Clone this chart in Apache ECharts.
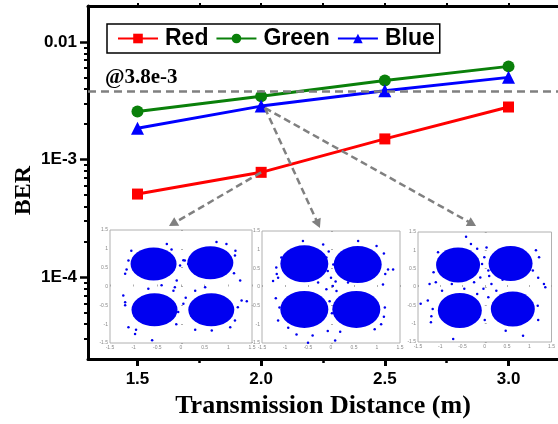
<!DOCTYPE html>
<html><head><meta charset="utf-8">
<script src="https://cdn.jsdelivr.net/npm/echarts@6/dist/echarts.min.js"></script>
<style>html,body{margin:0;padding:0;background:#fff}#c{width:558px;height:424px}</style>
</head><body><div id="c"></div>
<script>
// ---- main chart data ----
const distances = [1.5, 2.0, 2.5, 3.0];
const berRed = [5.1e-4, 7.8e-4, 1.5e-3, 2.8e-3];
const berGreen = [2.56e-3, 3.45e-3, 4.7e-3, 6.2e-3];
const berBlue = [1.85e-3, 2.85e-3, 3.85e-3, 5.0e-3];
const fecLimit = 3.8e-3;
const seriesNames = ['Red', 'Green', 'Blue'];
const xTickValues = [1.5, 2.0, 2.5, 3.0];
const xMinorTickValues = [1.75, 2.25, 2.75];
const yTickValues = [1e-4, 1e-3, 1e-2];
const yTickLabels = ['1E-4', '1E-3', '0.01'];
const yMinorTickValues = [3e-5,4e-5,5e-5,6e-5,7e-5,8e-5,9e-5,2e-4,3e-4,4e-4,5e-4,6e-4,7e-4,8e-4,9e-4,2e-3,3e-3,4e-3,5e-3,6e-3,7e-3,8e-3,9e-3];
const xRange = [1.3, 3.2];
const yRange = [2.02e-5, 2.02e-2];
// arrows (data space): from a point on the chart to each constellation inset
const arrowFrom = [[2.0, 7.8e-4], [2.015, 2.75e-3], [2.015, 2.75e-3]];
const arrowTo = [[1.643, 2.85e-4], [2.23, 2.85e-4], [2.853, 2.85e-4]];

// ---- constellation insets (I/Q), cluster centres + visible outlying points ----
const clusters1 = [[-0.58, 0.6], [0.62, 0.63], [-0.56, -0.62], [0.64, -0.62]];
const clusters2 = [[-0.58, 0.62], [0.58, 0.6], [-0.58, -0.6], [0.55, -0.6]];
const clusters3 = [[-0.6, 0.6], [0.58, 0.64], [-0.56, -0.64], [0.63, -0.6]];
const points1 = [[-1.22,-0.24],[-1.18,-0.42],[-1.11,-1.08],[-0.61,-1.43],[-0.97,-1.26],[-0.06,-0.68],[0.05,-0.46],[-0.13,-0.02],[-0.16,-0.11],[0.15,0.6],[0.08,0.69],[-0.02,0.56],[1.25,0.16],[1.28,-0.37],[1.39,-0.39],[1.14,-0.9],[1.04,-1.08],[0.65,-1.17],[-1.18,0.34],[-1.11,0.69],[-0.3,1.13],[0.96,1.13],[0.75,1.18],[1.14,0.82],[-0.41,0.03],[-0.69,-0.06],[0.3,-0.11],[0.51,-0.02],[-0.2,0.42],[-0.09,0.16],
  [-1.15,0.45],[-1.05,0.95],[-0.2,0.98],[0.05,0.7],[1.12,0.35],[1.15,0.95],[-1.18,-0.5],[-0.1,-1.0],[0.1,-0.3],[1.2,-0.55],[0.3,-1.15],[-0.95,-1.15]];
const points2 = [[-1.26,0.16],[-1.15,0.25],[-1.19,0.52],[-1.08,0.79],[-0.61,1.23],[-0.17,1.14],[-0.1,0.79],[-0.07,0.43],[0.0,0.25],[0.04,0.03],[-0.1,-0.06],[0.12,-0.11],[-0.03,-0.38],[-0.28,0.12],[0.37,0.12],[1.24,0.47],[1.35,0.47],[1.13,0.07],[1.17,-0.55],[1.09,-1.0],[0.95,-1.13],[-0.75,-1.27],[-0.5,-1.49],[0.09,-1.43],[-1.12,-0.55],[-0.93,-1.09],[0.59,1.23],[0.99,1.1],[-0.07,-1.18],
  [-1.18,0.35],[-0.05,0.95],[0.05,0.6],[1.18,0.35],[1.15,0.9],[-1.2,-0.3],[-1.15,-0.9],[0.02,-0.7],[1.15,-0.8],[0.2,-1.2],[-0.4,-1.3],[0.1,0.15]];
const points3 = [[-0.42,1.37],[-0.31,1.17],[-0.17,1.04],[0.04,1.08],[-0.01,0.81],[-0.06,0.63],[0.08,0.45],[-0.1,0.26],[-0.24,0.13],[0.15,0.08],[-0.03,-0.05],[-0.17,-0.19],[0.08,-0.28],[0.26,-0.1],[-0.46,-0.05],[-0.74,0.08],[-1.1,0.13],[-1.24,0.08],[-0.96,-0.1],[-1.28,-0.37],[-1.44,-0.46],[-1.17,-0.6],[-1.21,-0.96],[-0.71,-1.42],[0.47,-1.19],[0.86,-1.33],[1.19,-0.51],[1.33,0.08],[1.36,-0.01],[1.22,0.81],[1.08,0.45],[-1.03,0.58],[0.26,0.81],[0.33,-0.46],
  [-1.15,0.4],[-1.05,0.95],[1.2,0.25],[1.15,1.0],[-1.2,-0.8],[0.0,-0.9],[1.2,-0.9],[0.1,0.3],[-0.3,-0.35],[0.4,0.2]];

const SERIF = '"Liberation Serif","Times New Roman",serif';
const SANS = '"Liberation Sans",Arial,sans-serif';
const ELLIPSE = 'path://M0,1a1,1 0 1,0 2,0a1,1 0 1,0 -2,0z';
const DOT = '#0000f0';

const chart = echarts.init(document.getElementById('c'), null, {renderer: 'canvas'});

const insetGrids = [
  {left: 110, top: 230, width: 142, height: 113},
  {left: 262, top: 231, width: 138, height: 112},
  {left: 418, top: 232, width: 140, height: 110}
];
const clusterSets = [clusters1, clusters2, clusters3];
const pointSets = [points1, points2, points3];
const coreSize = [[46, 33], [48, 37], [44, 35]];

const grids = [{left: 88, top: 6, width: 479, height: 354}];
insetGrids.forEach(g => grids.push(Object.assign({show: true, backgroundColor: '#fff', borderColor: '#b0b0b0', borderWidth: 1}, g)));

function insetAxis(gi) {
  return {
    type: 'value', gridIndex: gi, min: -1.5, max: 1.5, interval: 0.5,
    axisLine: {show: false},
    axisTick: {show: true, inside: true, length: 2, lineStyle: {color: '#999', width: 0.8}},
    axisLabel: {show: true, fontSize: 5, color: '#888', margin: 2, fontFamily: SANS,
      formatter: v => String(v)},
    splitLine: {show: false}
  };
}

const xAxes = [
  {type: 'value', gridIndex: 0, position: 'bottom', min: xRange[0], max: xRange[1],
   axisLine: {show: true, onZero: false, lineStyle: {color: '#000', width: 3}},
   axisTick: {show: true, length: 7, customValues: xTickValues, lineStyle: {color: '#000', width: 3}},
   axisLabel: {show: true, customValues: xTickValues, formatter: v => v.toFixed(1), fontFamily: SANS, fontWeight: 'bold', fontSize: 17, color: '#000', margin: 12},
   splitLine: {show: false},
   name: 'Transmission Distance (m)', nameLocation: 'middle', nameGap: 32,
   nameTextStyle: {fontFamily: SERIF, fontWeight: 'bold', fontSize: 26, color: '#000'}},
  {type: 'value', gridIndex: 0, position: 'bottom', min: xRange[0], max: xRange[1],
   axisLine: {show: false},
   axisTick: {show: true, length: 4, customValues: xMinorTickValues, lineStyle: {color: '#000', width: 2.5}},
   axisLabel: {show: false}, splitLine: {show: false}},
  {type: 'value', gridIndex: 0, position: 'top', min: xRange[0], max: xRange[1],
   axisLine: {show: true, onZero: false, lineStyle: {color: '#000', width: 3}},
   axisTick: {show: true, length: 3, customValues: xTickValues.concat(xMinorTickValues), lineStyle: {color: '#000', width: 2}},
   axisLabel: {show: false}, splitLine: {show: false}}
];
const yAxes = [
  {type: 'log', logBase: 10, gridIndex: 0, position: 'left', min: yRange[0], max: yRange[1],
   axisLine: {show: true, onZero: false, lineStyle: {color: '#000', width: 3}},
   axisTick: {show: true, length: 8, customValues: yTickValues, lineStyle: {color: '#000', width: 2.5}},
   axisLabel: {show: true, customValues: yTickValues, fontFamily: SANS, fontWeight: 'bold', fontSize: 17, color: '#000', margin: 11,
     formatter: v => { let best = 0; yTickValues.forEach((t, i) => { if (Math.abs(Math.log10(t) - Math.log10(v)) < Math.abs(Math.log10(yTickValues[best]) - Math.log10(v))) best = i; }); return yTickLabels[best]; }},
   splitLine: {show: false},
   name: 'BER', nameLocation: 'middle', nameGap: 52, nameMoveOverlap: false,
   nameTextStyle: {fontFamily: SERIF, fontWeight: 'bold', fontSize: 24, color: '#000', padding: [0, 16, 0, 0]}},
  {type: 'log', logBase: 10, gridIndex: 0, position: 'left', min: yRange[0], max: yRange[1],
   axisLine: {show: false},
   axisTick: {show: true, length: 4, customValues: yMinorTickValues, lineStyle: {color: '#000', width: 2}},
   axisLabel: {show: false}, splitLine: {show: false}}
];
for (let i = 0; i < 3; i++) {
  xAxes.push(insetAxis(i + 1));
  yAxes.push(insetAxis(i + 1));
}

const lineStyle = (c) => ({color: c, width: 3});
const arrowLine = {color: '#808080', width: 2.5, type: [7, 4]};
const markLineData = [
  [
    {coord: [xRange[0], fecLimit], symbol: 'none', lineStyle: {color: '#808080', width: 2.5, type: [8, 5]},
     label: {show: true, position: 'insideStartTop', distance: [17, 3], formatter: '@' + fecLimit.toExponential(1),
       fontFamily: SERIF, fontWeight: 'bold', fontSize: 21, color: '#000'}},
    {coord: [xRange[1], fecLimit], symbol: 'none'}
  ]
];
arrowFrom.forEach((f, i) => {
  markLineData.push([
    {coord: f, symbol: 'none', lineStyle: arrowLine, label: {show: false}},
    {coord: arrowTo[i], symbol: 'triangle', symbolSize: [10, 9]}
  ]);
});

const series = [
  {name: seriesNames[0], type: 'line', xAxisIndex: 0, yAxisIndex: 0, data: distances.map((d, i) => [d, berRed[i]]),
   symbol: 'rect', symbolSize: 11, lineStyle: lineStyle('#ff0000'), itemStyle: {color: '#ff0000'}, z: 3,
   markLine: {silent: true, symbol: 'none', animation: false, data: markLineData}},
  {name: seriesNames[1], type: 'line', xAxisIndex: 0, yAxisIndex: 0, data: distances.map((d, i) => [d, berGreen[i]]),
   symbol: 'circle', symbolSize: 12, lineStyle: lineStyle('#0a800a'), itemStyle: {color: '#0a800a'}, z: 3},
  {name: seriesNames[2], type: 'line', xAxisIndex: 0, yAxisIndex: 0, data: distances.map((d, i) => [d, berBlue[i]]),
   symbol: 'triangle', symbolSize: 13, lineStyle: lineStyle('#0000ff'), itemStyle: {color: '#0000ff'}, z: 4}
];
for (let i = 0; i < 3; i++) {
  series.push({type: 'scatter', xAxisIndex: 3 + i, yAxisIndex: 2 + i, data: clusterSets[i], silent: true,
    symbol: ELLIPSE, symbolSize: coreSize[i], itemStyle: {color: DOT, opacity: 1}, z: 6});
  series.push({type: 'scatter', xAxisIndex: 3 + i, yAxisIndex: 2 + i, data: pointSets[i], silent: true,
    symbol: 'circle', symbolSize: 2.5, itemStyle: {color: DOT, opacity: 1}, z: 6});
}

chart.setOption({
  animation: false,
  backgroundColor: '#fff',
  grid: grids,
  xAxis: xAxes,
  yAxis: yAxes,
  legend: {
    data: seriesNames, left: 107, top: 24, orient: 'horizontal',
    itemWidth: 40, itemHeight: 12, itemGap: 7,
    borderColor: '#000', borderWidth: 1.5, padding: [3, 5, 3, 10],
    textStyle: {fontFamily: SANS, fontWeight: 'bold', fontSize: 23, color: '#000', padding: [0, 0, 0, 2]}
  },
  series: series
});
</script></body></html>
